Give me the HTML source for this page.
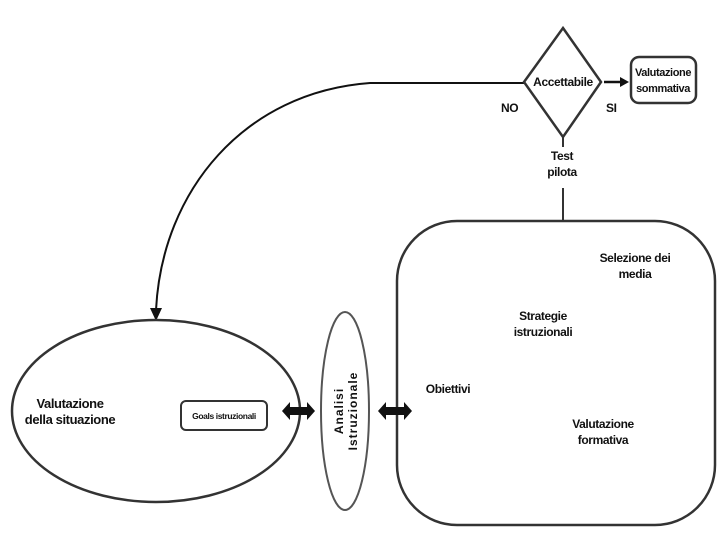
<!DOCTYPE html>
<html><head><meta charset="utf-8"><style>
body{margin:0;background:#fff;}
svg text{font-family:"Liberation Sans",sans-serif;font-weight:bold;fill:#111;letter-spacing:-0.4px;}
</style></head><body>
<svg width="720" height="540" viewBox="0 0 720 540" xmlns="http://www.w3.org/2000/svg">
<rect width="720" height="540" fill="#fff"/>
<path d="M524,83 L370,83 C245,92 162,190 156,310" fill="none" stroke="#111" stroke-width="2"/>
<polygon points="150,308 162,308 156,321" fill="#111"/>
<polygon points="563,28 601,82 563,137 524,82" fill="#fff" stroke="#333" stroke-width="2.5"/>
<text x="563" y="86" font-size="12" text-anchor="middle">Accettabile</text>
<text x="501" y="112" font-size="12">NO</text>
<text x="606" y="112" font-size="12">SI</text>
<line x1="604" y1="82" x2="622" y2="82" stroke="#111" stroke-width="2.5"/>
<polygon points="620,77 629,82 620,87" fill="#111"/>
<rect x="631" y="57" width="65" height="46" rx="8" fill="#fff" stroke="#333" stroke-width="2.5"/>
<text x="663" y="76" font-size="11" text-anchor="middle">Valutazione</text>
<text x="663" y="92" font-size="11" text-anchor="middle">sommativa</text>
<line x1="563" y1="137" x2="563" y2="147" stroke="#333" stroke-width="2"/>
<text x="562" y="160" font-size="12" text-anchor="middle">Test</text>
<text x="562" y="176" font-size="12" text-anchor="middle">pilota</text>
<line x1="563" y1="188" x2="563" y2="221" stroke="#333" stroke-width="2"/>
<rect x="397" y="221" width="318" height="304" rx="60" fill="none" stroke="#333" stroke-width="2.5"/>
<text x="635" y="262" font-size="12" text-anchor="middle">Selezione dei</text>
<text x="635" y="278" font-size="12" text-anchor="middle">media</text>
<text x="543" y="320" font-size="12" text-anchor="middle">Strategie</text>
<text x="543" y="336" font-size="12" text-anchor="middle">istruzionali</text>
<text x="448" y="393" font-size="12" text-anchor="middle">Obiettivi</text>
<text x="603" y="428" font-size="12" text-anchor="middle">Valutazione</text>
<text x="603" y="444" font-size="12" text-anchor="middle">formativa</text>
<ellipse cx="156" cy="411" rx="144" ry="91" fill="none" stroke="#333" stroke-width="2.5"/>
<text x="70" y="408" font-size="13" text-anchor="middle">Valutazione</text>
<text x="70" y="424" font-size="13" text-anchor="middle">della situazione</text>
<rect x="181" y="401" width="86" height="29" rx="5" fill="#fff" stroke="#333" stroke-width="2"/>
<text x="224" y="419" font-size="8.5" text-anchor="middle">Goals istruzionali</text>
<polygon points="282,411 290,402 290,407 307,407 307,402 315,411 307,420 307,415 290,415 290,420" fill="#111"/>
<polygon points="378,411 386,402 386,407 404,407 404,402 412,411 404,420 404,415 386,415 386,420" fill="#111"/>
<ellipse cx="345" cy="411" rx="24" ry="99" fill="#fff" stroke="#555" stroke-width="2"/>
<text transform="translate(343,411) rotate(-90)" font-size="12" text-anchor="middle" style="letter-spacing:1px">Analisi</text>
<text transform="translate(357,411) rotate(-90)" font-size="12" text-anchor="middle" style="letter-spacing:1px">Istruzionale</text>
</svg>
</body></html>
